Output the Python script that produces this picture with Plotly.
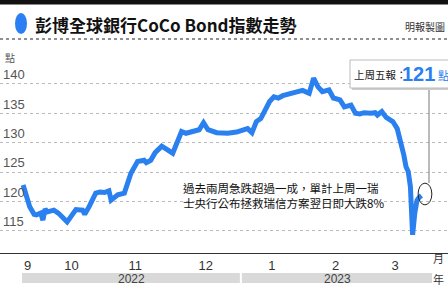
import plotly.graph_objects as go

dates = ["2022-09-24","2022-09-26","2022-09-27","2022-09-29","2022-09-30","2022-10-02","2022-10-03",
         "2022-10-04","2022-10-05","2022-10-08","2022-10-10","2022-10-14","2022-10-16","2022-10-18",
         "2022-10-21","2022-10-22","2022-10-24","2022-10-27","2022-10-29","2022-10-31","2022-11-02",
         "2022-11-03","2022-11-06","2022-11-09","2022-11-12","2022-11-15","2022-11-18","2022-11-19",
         "2022-11-21","2022-11-23","2022-11-26","2022-12-01","2022-12-05","2022-12-07","2022-12-10",
         "2022-12-13","2022-12-15","2022-12-17","2022-12-21","2022-12-26","2022-12-30","2023-01-03",
         "2023-01-04","2023-01-06","2023-01-08","2023-01-10","2023-01-14","2023-01-16","2023-01-18",
         "2023-01-20","2023-01-23","2023-01-26","2023-01-29","2023-02-01","2023-02-03","2023-02-05",
         "2023-02-07","2023-02-10","2023-02-12","2023-02-15","2023-02-17","2023-02-20","2023-02-22",
         "2023-02-24","2023-02-26","2023-03-01","2023-03-03","2023-03-04","2023-03-06","2023-03-08",
         "2023-03-11","2023-03-13","2023-03-14","2023-03-16","2023-03-17","2023-03-18","2023-03-19",
         "2023-03-20","2023-03-21","2023-03-22","2023-03-23","2023-03-24"]
values = [122.8,120.2,119.1,117.8,117.7,118.0,116.8,
          118.7,118.2,118.5,118.0,116.5,117.4,118.6,
          118.5,117.8,119.1,121.4,121.6,121.5,121.8,
          120.2,121.1,121.4,124.8,126.8,127.0,126.6,
          127.0,128.3,129.4,128.2,131.9,131.6,131.9,
          132.2,133.4,132.2,131.7,131.6,131.8,132.2,
          132.4,131.7,133.6,134.1,137.0,137.8,137.6,
          138.0,138.3,138.7,138.9,138.4,141.0,139.5,
          138.7,139.0,137.6,137.3,136.1,136.4,135.0,
          134.9,135.1,135.0,135.1,134.7,135.3,134.3,
          133.6,132.4,131.0,127.9,125.9,125.1,122.5,
          114.3,118.0,120.2,120.7,121.0]

month_ticks = ["2022-09-26","2022-10-16","2022-11-14","2022-12-16","2023-01-15","2023-02-13","2023-03-12"]
month_labels = ["9","10","11","12","1","2","3"]
y_ticks = [115,120,125,130,135,140]
years = ["2022","2023"]
year_spans = [("2022-09-23 12:00","2022-12-31 12:00"),("2023-01-01 10:00","2023-03-28 19:00")]

title = "彭博全球銀行CoCo Bond指數走勢"
source = "明報製圖"
note = "過去兩周急跌超過一成，單計上周一瑞<br>士央行公布拯救瑞信方案翌日即大跌8%"
last_label = "上周五報："
last_value = "121"
last_unit = "點"

BLUE = "#2b80ef"
NARROW = "Liberation Sans Narrow, Liberation Sans"
CJK = "Noto Sans CJK TC"
W, H = 448, 296
TOP, BOT = 60, 253
def py(p):  # pixel y -> paper y
    return (BOT - p) / (BOT - TOP)
def px(p):
    return p / W

fig = go.Figure()
fig.add_trace(go.Scatter(x=dates, y=values, mode="lines",
                         line=dict(color=BLUE, width=5), hoverinfo="skip"))

shapes = []
shapes.append(dict(type="rect", xref="paper", yref="paper", x0=0, x1=1.01, y0=py(0), y1=py(4.5),
                   fillcolor="#111", line=dict(width=0), layer="above"))
shapes.append(dict(type="line", xref="paper", yref="paper", x0=0, x1=1, y0=py(39), y1=py(39),
                   line=dict(color="#222", width=1.2, dash="dot")))
shapes.append(dict(type="circle", xref="paper", yref="paper", x0=px(15), x1=px(27), y0=py(13), y1=py(34),
                   fillcolor="#2c7ff2", line=dict(width=0)))
for (a, b) in year_spans:
    shapes.append(dict(type="rect", xref="x", yref="paper", x0=a, x1=b, y0=py(273), y1=py(283),
                       fillcolor="#d9d9d9", line=dict(width=0)))
shapes.append(dict(type="circle", xref="x", yref="y", x0="2023-03-22 12:00", x1="2023-03-28 18:00",
                   y0=119.4, y1=123.1, line=dict(color="#222", width=1)))
shapes.append(dict(type="line", xref="paper", yref="paper", x0=px(429), x1=px(429), y0=py(88), y1=py(183),
                   line=dict(color="#777", width=1)))
shapes.append(dict(type="rect", xref="paper", yref="paper", x0=px(352), x1=px(452), y0=py(62), y1=py(90),
                   fillcolor="#cccccc", line=dict(width=0)))
shapes.append(dict(type="rect", xref="paper", yref="paper", x0=px(350), x1=px(450), y0=py(60), y1=py(88),
                   fillcolor="white", line=dict(color="#bbb", width=1)))

ann = []
ann.append(dict(text=f"<b>{title}</b>", x=px(33), y=py(24), xref="paper", yref="paper",
                xanchor="left", yanchor="middle", showarrow=False,
                font=dict(family=CJK, size=17, color="#111")))
ann.append(dict(text=source, x=px(447), y=py(26), xref="paper", yref="paper",
                xanchor="right", yanchor="middle", showarrow=False,
                font=dict(family=CJK, size=10, color="#333")))
ann.append(dict(text="點", x=px(3), y=py(58), xref="paper", yref="paper",
                xanchor="left", yanchor="middle", showarrow=False,
                font=dict(family=CJK, size=10, color="#555")))
ann.append(dict(text=note, x=px(181), y=py(195), xref="paper", yref="paper",
                xanchor="left", yanchor="middle", align="left", showarrow=False,
                font=dict(family=CJK, size=11.5, color="#111")))
ann.append(dict(text=last_label, x=px(352), y=py(74), xref="paper", yref="paper",
                xanchor="left", yanchor="middle", showarrow=False,
                font=dict(family=CJK, size=10.5, color="#222")))
ann.append(dict(text=f"<b>{last_value}</b>", x=px(400), y=py(74), xref="paper", yref="paper",
                xanchor="left", yanchor="middle", showarrow=False,
                font=dict(family=NARROW, size=20, color=BLUE)))
ann.append(dict(text=last_unit, x=px(436), y=py(75), xref="paper", yref="paper",
                xanchor="left", yanchor="middle", showarrow=False,
                font=dict(family=CJK, size=11, color=BLUE)))
for i, yr in enumerate(years):
    ann.append(dict(text=yr, x=[px(131.5), px(337.5)][i], y=py(278.5), xref="paper", yref="paper",
                    xanchor="center", yanchor="middle", showarrow=False,
                    font=dict(family=NARROW, size=12, color="#444")))
ann.append(dict(text="月", x=px(446), y=py(258), xref="paper", yref="paper", xanchor="right",
                yanchor="middle", showarrow=False, font=dict(family=CJK, size=11, color="#333")))
ann.append(dict(text="年", x=px(446), y=py(279), xref="paper", yref="paper", xanchor="right",
                yanchor="middle", showarrow=False, font=dict(family=CJK, size=11, color="#333")))

fig.update_layout(
    width=W, height=H, margin=dict(l=0, r=0, t=TOP, b=H - BOT),
    paper_bgcolor="white", plot_bgcolor="white", showlegend=False,
    shapes=shapes, annotations=ann,
    xaxis=dict(type="date", range=["2022-09-13 12:00", "2023-04-05 02:00"],
               tickvals=month_ticks, ticktext=month_labels, ticks="", showgrid=False,
               showline=True, linecolor="#333", linewidth=1, zeroline=False,
               tickfont=dict(family=NARROW, size=13, color="#333"),
               ticklabelstandoff=0),
    yaxis=dict(range=[111.2, 144.08], tickvals=y_ticks, ticklabelposition="inside top",
               showgrid=True, gridcolor="#bbbbbb", griddash="dot", gridwidth=1,
               zeroline=False, showline=False, ticks="",
               tickfont=dict(family=NARROW, size=13, color="#555")),
)

fig.write_html("out.html")
